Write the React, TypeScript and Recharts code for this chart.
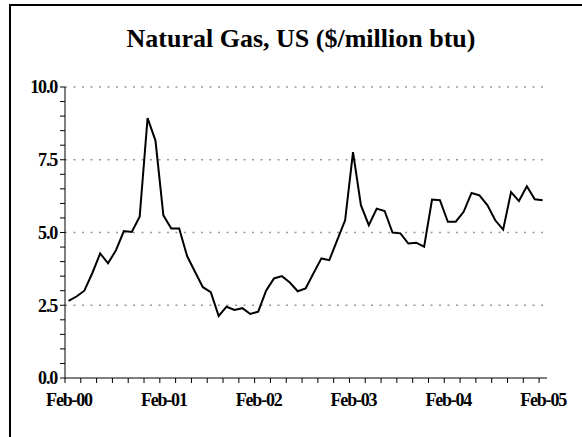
import { LineChart, Line, XAxis, YAxis, ReferenceLine } from 'recharts';

// monthly prices, Feb-00 .. Feb-05
const prices = [
  2.65, 2.8, 3.0, 3.6, 4.28, 3.94, 4.39, 5.05, 5.02, 5.54, 8.93, 8.16,
  5.59, 5.14, 5.14, 4.19, 3.65, 3.12, 2.95, 2.13, 2.45, 2.34, 2.4, 2.2,
  2.28, 3.0, 3.42, 3.5, 3.28, 2.98, 3.08, 3.6, 4.11, 4.05, 4.74, 5.42,
  7.76, 5.94, 5.25, 5.82, 5.74, 5.0, 4.97, 4.62, 4.65, 4.51, 6.13, 6.11,
  5.37, 5.37, 5.71, 6.36, 6.28, 5.94, 5.42, 5.1, 6.39, 6.08, 6.59, 6.14,
  6.11,
];

const yearLabels = ['Feb-00', 'Feb-01', 'Feb-02', 'Feb-03', 'Feb-04', 'Feb-05'];
const gridValues = [2.5, 5, 7.5, 10];
const yLabelValues = [0, 2.5, 5, 7.5, 10];

const FONT = "'Liberation Serif', 'Times New Roman', Tinos, 'DejaVu Serif', serif";

const data = prices.map((price, i) => ({ t: i + 0.45, price }));
const xTicks = Array.from({ length: 31 }, (_, i) => i * 2);
const yTicks = Array.from({ length: 21 }, (_, i) => i * 0.5);

const tickStyle = { fontFamily: FONT, fontWeight: 700, fontSize: 18, fill: '#000', letterSpacing: -1.2 };

export default function App() {
  return (
    <div style={{ position: 'absolute', left: 0, top: 0, width: 582, height: 437, overflow: 'hidden', background: '#fff' }}>
      <div
        style={{
          position: 'absolute',
          left: 9,
          top: 4,
          width: 640,
          height: 500,
          border: '2px solid #000',
        }}
      />
      <div
        style={{
          position: 'absolute',
          left: 0,
          top: 24,
          width: 602,
          textAlign: 'center',
          fontFamily: FONT,
          fontWeight: 700,
          fontSize: 26,
          lineHeight: '30px',
          color: '#000',
        }}
      >
        Natural Gas, US ($/million btu)
      </div>
      <div style={{ position: 'absolute', left: 0, top: 0 }}>
        <LineChart width={582} height={437} data={data} margin={{ top: 87, right: 35, bottom: 19, left: 8 }}>
          {gridValues.map((v) => (
            <ReferenceLine key={v} y={v} stroke="#999" strokeWidth={1.5} strokeDasharray="2 6.5" />
          ))}
          <XAxis
            type="number"
            dataKey="t"
            domain={[0, 61]}
            ticks={xTicks}
            interval={0}
            tickFormatter={(t: number) => (t % 12 === 0 ? yearLabels[t / 12] : '')}
            tick={{ ...tickStyle, dx: 4 }}
            tickSize={5}
            tickMargin={10}
            height={40}
            stroke="#000"
            axisLine={{ stroke: '#000' }}
            tickLine={{ stroke: '#000' }}
          />
          <YAxis
            type="number"
            domain={[0, 10]}
            ticks={yTicks}
            interval={0}
            tickFormatter={(v: number) => (yLabelValues.includes(v) ? v.toFixed(1) : '')}
            tick={tickStyle}
            tickSize={5}
            tickMargin={3}
            width={57}
            stroke="#000"
            axisLine={{ stroke: '#000' }}
            tickLine={{ stroke: '#000' }}
          />
          <Line
            type="linear"
            dataKey="price"
            stroke="#000"
            strokeWidth={2}
            dot={false}
            isAnimationActive={false}
          />
        </LineChart>
      </div>
    </div>
  );
}
